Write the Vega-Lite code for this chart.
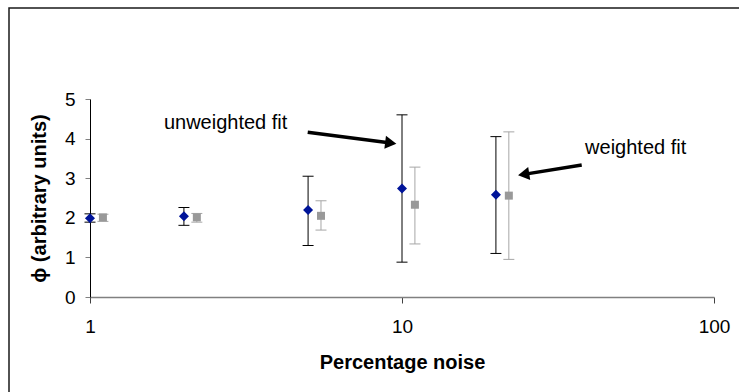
{
  "$schema": "https://vega.github.io/schema/vega-lite/v6.json",
  "autosize": "none",
  "width": 736,
  "height": 390,
  "padding": {"left": 9, "top": 8, "right": 0, "bottom": 0},
  "background": "#ffffff",
  "config": {
    "view": {"stroke": "#1a1a1a", "strokeWidth": 1.5},
    "font": "Liberation Sans",
    "axis": {"grid": false, "labelFont": "Liberation Sans", "titleFont": "Liberation Sans", "labelColor": "#000000", "titleColor": "#000000"}
  },
  "datasets": {
    "fits": [
      {"fit": "unweighted", "noise": 1, "phi": 1.99, "lo": 1.89, "hi": 2.10},
      {"fit": "unweighted", "noise": 2, "phi": 2.04, "lo": 1.81, "hi": 2.26},
      {"fit": "unweighted", "noise": 5, "phi": 2.20, "lo": 1.30, "hi": 3.05},
      {"fit": "unweighted", "noise": 10, "phi": 2.74, "lo": 0.88, "hi": 4.60},
      {"fit": "unweighted", "noise": 20, "phi": 2.58, "lo": 1.10, "hi": 4.05},
      {"fit": "weighted", "noise": 1.1, "phi": 2.01, "lo": 1.91, "hi": 2.09},
      {"fit": "weighted", "noise": 2.2, "phi": 2.01, "lo": 1.89, "hi": 2.11},
      {"fit": "weighted", "noise": 5.5, "phi": 2.05, "lo": 1.69, "hi": 2.43},
      {"fit": "weighted", "noise": 11, "phi": 2.33, "lo": 1.34, "hi": 3.28},
      {"fit": "weighted", "noise": 22, "phi": 2.56, "lo": 0.95, "hi": 4.17}
    ],
    "notes": [
      {"label": "unweighted fit", "noise": 2.72, "phi": 4.255},
      {"label": "weighted fit", "noise": 56.1, "phi": 3.61}
    ],
    "arrows": [
      {"label": "unweighted fit", "noise": 4.986, "phi": 4.159, "noise2": 9.204, "phi2": 3.890},
      {"label": "weighted fit", "noise": 37.67, "phi": 3.333, "noise2": 24.54, "phi2": 3.097}
    ]
  },
  "layer": [
    {
      "data": {"name": "fits"},
      "mark": {"type": "rule", "strokeWidth": 1},
      "encoding": {
        "x": {
          "field": "noise", "type": "quantitative",
          "scale": {"type": "log", "domain": [1, 100], "range": [81, 705]},
          "axis": {
            "title": "Percentage noise", "values": [1, 10, 100], "format": "d",
            "offset": -101, "labelFlush": false,
            "domainColor": "#808080", "domainWidth": 1.5,
            "tickColor": "#404040", "tickSize": 6,
            "labelFontSize": 19, "labelPadding": 14,
            "titleFontSize": 20, "titleFontWeight": "bold", "titlePadding": 16
          }
        },
        "y": {
          "field": "lo", "type": "quantitative",
          "scale": {"domain": [0, 5], "range": [289, 91]},
          "axis": {
            "title": "ϕ  (arbitrary units)", "values": [0, 1, 2, 3, 4, 5], "format": "d",
            "offset": -81,
            "domainColor": "#000000", "domainWidth": 1,
            "tickColor": "#808080", "tickSize": 5,
            "labelFontSize": 19, "labelPadding": 10,
            "titleFontSize": 20, "titleFontWeight": "bold", "titlePadding": 15
          }
        },
        "y2": {"field": "hi"},
        "color": {
          "field": "fit", "type": "nominal",
          "scale": {"domain": ["unweighted", "weighted"], "range": ["#000000", "#a6a6a6"]},
          "legend": null
        }
      }
    },
    {
      "data": {"name": "fits"},
      "mark": {"type": "tick", "orient": "horizontal", "size": 11, "thickness": 1, "opacity": 1},
      "encoding": {
        "x": {"field": "noise", "type": "quantitative"},
        "y": {"field": "lo", "type": "quantitative"},
        "color": {"field": "fit", "type": "nominal", "legend": null}
      }
    },
    {
      "data": {"name": "fits"},
      "mark": {"type": "tick", "orient": "horizontal", "size": 11, "thickness": 1, "opacity": 1},
      "encoding": {
        "x": {"field": "noise", "type": "quantitative"},
        "y": {"field": "hi", "type": "quantitative"},
        "color": {"field": "fit", "type": "nominal", "legend": null}
      }
    },
    {
      "data": {"name": "fits"},
      "transform": [{"filter": "datum.fit === 'unweighted'"}],
      "mark": {"type": "point", "shape": "diamond", "filled": true, "size": 100, "color": "#001499", "opacity": 1},
      "encoding": {
        "x": {"field": "noise", "type": "quantitative"},
        "y": {"field": "phi", "type": "quantitative"}
      }
    },
    {
      "data": {"name": "fits"},
      "transform": [{"filter": "datum.fit === 'weighted'"}],
      "mark": {"type": "point", "shape": "square", "filled": true, "size": 64, "color": "#999999", "opacity": 1},
      "encoding": {
        "x": {"field": "noise", "type": "quantitative"},
        "y": {"field": "phi", "type": "quantitative"}
      }
    },
    {
      "data": {"name": "arrows"},
      "mark": {"type": "rule", "strokeWidth": 3.5, "color": "#000000"},
      "encoding": {
        "x": {"field": "noise", "type": "quantitative"},
        "y": {"field": "phi", "type": "quantitative"},
        "x2": {"field": "noise2"},
        "y2": {"field": "phi2"}
      }
    },
    {
      "data": {"name": "arrows"},
      "transform": [{"filter": "datum.label === 'unweighted fit'"}],
      "mark": {"type": "point", "shape": "triangle-up", "filled": true, "size": 170, "angle": 97, "color": "#000000", "opacity": 1},
      "encoding": {
        "x": {"field": "noise2", "type": "quantitative"},
        "y": {"field": "phi2", "type": "quantitative"}
      }
    },
    {
      "data": {"name": "arrows"},
      "transform": [{"filter": "datum.label === 'weighted fit'"}],
      "mark": {"type": "point", "shape": "triangle-up", "filled": true, "size": 170, "angle": 261, "color": "#000000", "opacity": 1},
      "encoding": {
        "x": {"field": "noise2", "type": "quantitative"},
        "y": {"field": "phi2", "type": "quantitative"}
      }
    },
    {
      "data": {"name": "notes"},
      "mark": {"type": "text", "fontSize": 20, "font": "Liberation Sans", "align": "center", "baseline": "alphabetic", "color": "#000000"},
      "encoding": {
        "x": {"field": "noise", "type": "quantitative"},
        "y": {"field": "phi", "type": "quantitative"},
        "text": {"field": "label"}
      }
    }
  ]
}
